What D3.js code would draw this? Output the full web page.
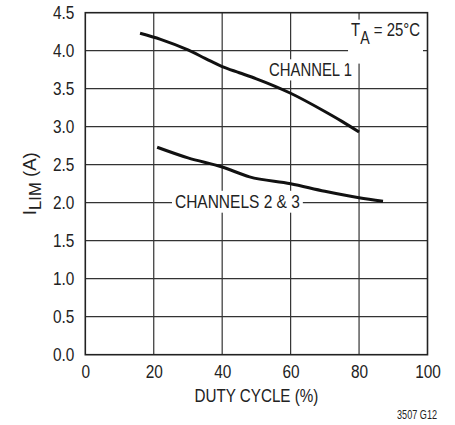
<!DOCTYPE html>
<html>
<head>
<meta charset="utf-8">
<script src="https://cdn.jsdelivr.net/npm/d3@7"></script>
<style>
  body { margin: 0; background: #fff; }
  text { font-family: "Liberation Sans", Arial, sans-serif; fill: #222; }
</style>
</head>
<body>
<svg id="chart"></svg>
<script>
const xTicks = [0, 20, 40, 60, 80, 100];
const yTicks = [0, 0.5, 1.0, 1.5, 2.0, 2.5, 3.0, 3.5, 4.0, 4.5];

// duty cycle (%) vs current limit (A)
const ch1Duty = [16, 22, 30, 35, 40, 45, 50, 60, 70, 75, 80];
const ch1Ilim = [4.23, 4.15, 4.01, 3.90, 3.79, 3.71, 3.63, 3.44, 3.20, 3.07, 2.93];
const ch23Duty = [21, 30, 40, 48, 60, 70, 80, 87];
const ch23Ilim = [2.73, 2.59, 2.47, 2.34, 2.25, 2.15, 2.065, 2.02];

const width = 455, height = 425;
const margin = { top: 12.7, right: 27.5, bottom: 70.3, left: 85.3 };
const w = width - margin.left - margin.right;
const h = height - margin.top - margin.bottom;
const squeeze = 0.81; // condensed look
const fs = 19;

const svg = d3.select('#chart')
    .attr('width', width)
    .attr('height', height);

const g = svg.append('g')
    .attr('transform', `translate(${margin.left},${margin.top})`);

const x = d3.scaleLinear().domain([0, 100]).range([0, w]);
const y = d3.scaleLinear().domain([0, 4.5]).range([h, 0]);

// grid
g.append('g')
    .selectAll('line')
    .data(xTicks.slice(1, -1))
    .enter().append('line')
    .attr('x1', d => x(d)).attr('x2', d => x(d))
    .attr('y1', 0).attr('y2', h)
    .attr('stroke', '#333').attr('stroke-width', 1.2);

g.append('g')
    .selectAll('line')
    .data(yTicks.slice(1, -1))
    .enter().append('line')
    .attr('x1', 0).attr('x2', w)
    .attr('y1', d => y(d)).attr('y2', d => y(d))
    .attr('stroke', '#333').attr('stroke-width', 1.2);

// axes (labels only)
const xAxis = g.append('g')
    .attr('transform', `translate(0,${h})`)
    .call(d3.axisBottom(x).tickValues(xTicks).tickSize(0).tickPadding(10).tickFormat(d3.format('d')));
const yAxis = g.append('g')
    .call(d3.axisLeft(y).tickValues(yTicks).tickSize(0).tickPadding(11).tickFormat(d3.format('.1f')));
[xAxis, yAxis].forEach(a => {
    a.select('.domain').remove();
    a.selectAll('text')
        .style('font-size', fs + 'px')
        .style('font-family', '"Liberation Sans", Arial, sans-serif')
        .attr('fill', '#222')
        .attr('transform', `scale(${squeeze},1)`);
});
yAxis.selectAll('text').attr('x', -11 / squeeze);

// curves
const line = d3.line().curve(d3.curveMonotoneX).x(d => x(d[0])).y(d => y(d[1]));
g.append('path')
    .datum(d3.zip(ch1Duty, ch1Ilim))
    .attr('d', line)
    .attr('fill', 'none').attr('stroke', '#111').attr('stroke-width', 3);
g.append('path')
    .datum(d3.zip(ch23Duty, ch23Ilim))
    .attr('d', line)
    .attr('fill', 'none').attr('stroke', '#111').attr('stroke-width', 3);

// condensed text helper; optional white backing that masks the grid
function ctext(parent, tx, ty, parts, o) {
    o = o || {};
    const grp = parent.append('g')
        .attr('transform', `translate(${tx},${ty})` + (o.rotate ? ` rotate(${o.rotate})` : ''));
    const t = grp.append('text')
        .attr('text-anchor', o.anchor || 'start')
        .style('font-size', (o.size || fs) + 'px');
    parts.forEach(p => {
        const s = t.append('tspan').text(p.t);
        if (p.dy) s.attr('dy', p.dy);
        if (p.size) s.style('font-size', p.size + 'px');
    });
    const natural = t.node().getComputedTextLength();
    const k = o.width ? o.width / natural : squeeze;
    t.attr('transform', `scale(${k},1)`);
    if (o.mask) {
        const b = grp.node().getBBox();
        const hh = o.maskBottom != null ? o.maskBottom - b.y : b.height;
        grp.insert('rect', 'text')
            .attr('x', b.x - 3).attr('y', b.y).attr('width', b.width + 6).attr('height', hh)
            .attr('fill', '#fff');
    }
    return grp;
}

ctext(g, x(53.7), 76 - margin.top, [{ t: 'CHANNEL 1' }], { mask: true, width: 83 });
ctext(g, x(26.2), 208.3 - margin.top, [{ t: 'CHANNELS 2 & 3' }], { mask: true, width: 125 });
ctext(g, 420 - margin.left, 36.3 - margin.top,
    [{ t: 'T' }, { t: 'A', dy: 8, size: 18 }, { t: ' = 25°C', dy: -8 }],
    { anchor: 'end', mask: true, maskBottom: 40 - margin.top, width: 69 });

// frame
g.append('rect')
    .attr('width', w).attr('height', h)
    .attr('fill', 'none').attr('stroke', '#222').attr('stroke-width', 1.6);

// axis titles
ctext(svg, margin.left + w / 2, 402, [{ t: 'DUTY CYCLE (%)' }], { anchor: 'middle', width: 124 });
ctext(svg, 36, margin.top + h / 2,
    [{ t: 'I' }, { t: 'LIM', dy: 5, size: 17 }, { t: ' (A)', dy: -5 }],
    { anchor: 'middle', rotate: -90, width: 63 });
ctext(svg, 437, 419, [{ t: '3507 G12' }], { anchor: 'end', size: 12.5, width: 40 });
</script>
</body>
</html>
